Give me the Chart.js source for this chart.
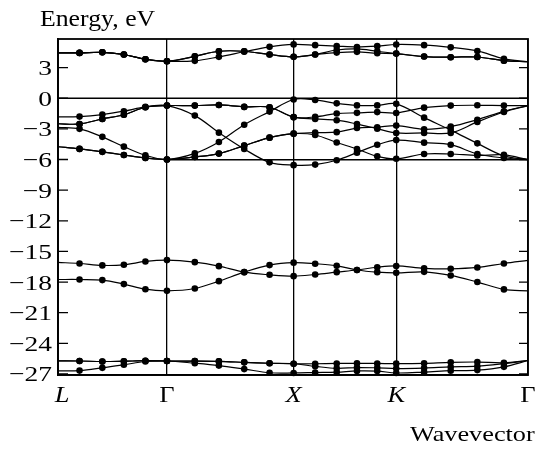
<!DOCTYPE html>
<html>
<head>
<meta charset="utf-8">
<script src="https://cdn.jsdelivr.net/npm/chart.js@4"></script>
<style>
  html, body { margin: 0; padding: 0; background: #fff; }
  #wrap { width: 536px; height: 453px; }
</style>
</head>
<body>
<div id="wrap"><canvas id="bands" width="536" height="453"></canvas></div>
<script>
// k-path positions of the computed points (L -> Γ -> X -> K -> Γ)
const kPos = [0, 0.17, 0.35, 0.52, 0.69, 0.86, 1.08, 1.27, 1.47, 1.67, 1.86,
              2.03, 2.20, 2.36, 2.52, 2.67, 2.89, 3.10, 3.31, 3.52, 3.71];
const kLabelPos = [0, 0.86, 1.86, 2.67, 3.71];
const kLabels = ['L', 'Γ', 'X', 'K', 'Γ'];
const kItalic = [true, false, true, true, false];
const energyTicks = [3, 0, -3, -6, -9, -12, -15, -18, -21, -24, -27];

// conduction bands
const cb1 = [4.44, 4.44, 4.50, 4.28, 3.82, 3.62, 3.66, 4.05, 4.55, 5.03, 5.27, 5.20, 5.10, 5.02, 5.10, 5.26, 5.20, 4.98, 4.63, 3.86, 3.57];
const cb2 = [4.44, 4.44, 4.50, 4.28, 3.82, 3.62, 4.10, 4.60, 4.60, 4.28, 4.05, 4.28, 4.72, 4.83, 4.60, 4.37, 4.08, 4.02, 4.04, 3.68, 3.57];
const cb3 = [4.44, 4.44, 4.50, 4.28, 3.82, 3.62, 4.10, 4.60, 4.60, 4.28, 4.05, 4.28, 4.47, 4.54, 4.41, 4.37, 4.08, 4.02, 4.04, 3.68, 3.57];
// valence bands
const vb1 = [-1.83, -1.80, -1.60, -1.27, -0.85, -0.72, -0.72, -0.66, -0.85, -0.88, -1.85, -1.83, -1.50, -1.43, -1.36, -1.44, -0.92, -0.72, -0.69, -0.72, -0.72];
const vb2 = [-2.50, -2.52, -2.03, -1.62, -0.88, -0.72, -0.72, -0.66, -0.85, -0.88, -1.85, -2.03, -2.15, -2.53, -2.98, -3.40, -3.40, -3.40, -2.32, -1.35, -0.72];
const vb3 = [-2.50, -2.52, -2.03, -1.62, -0.88, -0.72, -1.70, -3.37, -4.97, -6.28, -6.55, -6.50, -6.07, -5.33, -4.56, -4.10, -4.35, -4.55, -5.46, -5.85, -6.02];
const vb4 = [-2.85, -3.00, -3.78, -4.74, -5.58, -6.00, -5.40, -4.28, -2.60, -1.31, -0.12, -0.17, -0.50, -0.70, -0.70, -0.55, -1.90, -3.12, -4.42, -5.65, -6.02];
const vb5 = [-4.75, -4.96, -5.25, -5.56, -5.85, -6.00, -5.75, -5.42, -4.64, -3.86, -3.47, -3.37, -3.32, -2.92, -2.84, -2.68, -3.04, -2.78, -2.10, -1.28, -0.72];
const vb6 = [-4.75, -4.96, -5.25, -5.56, -5.85, -6.00, -5.75, -5.42, -4.64, -3.86, -3.47, -3.60, -4.33, -4.97, -5.69, -5.93, -5.46, -5.46, -5.60, -5.55, -6.02];
// semicore bands
const sb1 = [-16.08, -16.18, -16.37, -16.31, -15.98, -15.85, -16.05, -16.44, -17.03, -17.29, -17.42, -17.26, -17.03, -16.82, -16.55, -16.42, -16.65, -16.70, -16.57, -16.18, -15.88];
const sb2 = [-17.75, -17.75, -17.81, -18.20, -18.70, -18.86, -18.63, -17.91, -17.03, -16.34, -16.10, -16.20, -16.41, -16.82, -17.03, -17.10, -17.00, -17.35, -18.00, -18.72, -18.86];
// deep bands
const db1 = [-25.72, -25.73, -25.78, -25.75, -25.70, -25.73, -25.74, -25.77, -25.86, -25.95, -26.00, -26.00, -25.97, -25.96, -25.97, -25.99, -25.96, -25.86, -25.83, -25.90, -25.68];
const db2 = [-26.70, -26.67, -26.40, -26.10, -25.78, -25.73, -25.95, -26.18, -26.52, -26.88, -26.90, -26.86, -26.82, -26.70, -26.72, -26.90, -26.82, -26.68, -26.62, -26.30, -25.68];
const db3 = [-25.72, -25.73, -25.78, -25.75, -25.70, -25.73, -25.74, -25.77, -25.86, -25.95, -26.00, -26.25, -26.45, -26.37, -26.40, -26.47, -26.42, -26.31, -26.24, -25.98, -25.68];

// reference levels: top of valence band and Γ-point bottom
const fermiLevel = 0;
const gammaBottom = -6.03;

const bands = [cb1, cb2, cb3, vb1, vb2, vb3, vb4, vb5, vb6, sb1, sb2, db1, db2, db3];
const last = kPos.length - 1;

const datasets = bands.map(b => ({
  data: b.map((e, i) => ({ x: kPos[i], y: e })),
  borderColor: '#000',
  borderWidth: 1.2,
  tension: 0.35,
  pointRadius: ctx => (ctx.dataIndex === 0 || ctx.dataIndex === last) ? 0 : 3.3,
  pointBackgroundColor: '#000',
  pointBorderWidth: 0,
  clip: false,
}));
datasets.push({
  data: [{ x: kPos[0], y: fermiLevel }, { x: kPos[last], y: fermiLevel }],
  borderColor: '#000', borderWidth: 1.5, pointRadius: 0, tension: 0,
});
datasets.push({
  data: [{ x: kLabelPos[1], y: gammaBottom }, { x: kLabelPos[4], y: gammaBottom }],
  borderColor: '#000', borderWidth: 1.5, pointRadius: 0, tension: 0,
});

const SERIF = '"Liberation Serif", "Times New Roman", serif';

function stretchText(ctx, text, x, y, align, font, sx) {
  ctx.save();
  ctx.translate(x, y);
  ctx.scale(sx, 1);
  ctx.font = font;
  ctx.textAlign = align;
  ctx.textBaseline = 'alphabetic';
  ctx.fillStyle = '#000';
  ctx.fillText(text, 0, 0);
  ctx.restore();
}

const frame = {
  id: 'frame',
  afterDraw(chart) {
    const { ctx, chartArea: a, scales: { x, y } } = chart;
    ctx.save();
    ctx.strokeStyle = '#000';
    ctx.lineWidth = 1.8;
    ctx.strokeRect(a.left, a.top, a.right - a.left, a.bottom - a.top);
    ctx.lineWidth = 1.3;
    energyTicks.forEach(v => {
      const py = y.getPixelForValue(v);
      ctx.beginPath();
      ctx.moveTo(a.left, py); ctx.lineTo(a.left + 10, py);
      ctx.moveTo(a.right - 9, py); ctx.lineTo(a.right, py);
      ctx.stroke();
      const t = v < 0 ? '\u2212' + Math.abs(v) : String(v);
      stretchText(ctx, t, a.left - 6, py + 7.5, 'right', '22px ' + SERIF, 1.25);
    });
    kLabelPos.forEach((v, i) => {
      const px = x.getPixelForValue(v);
      const f = (kItalic[i] ? 'italic ' : '') + '23px ' + SERIF;
      stretchText(ctx, kLabels[i], px + (i === 0 ? 4 : 0), 402, 'center', f, 1.15);
    });
    stretchText(ctx, 'Energy, eV', 40, 26, 'left', '23px ' + SERIF, 1.12);
    stretchText(ctx, 'Wavevector', 410, 441, 'left', '21px ' + SERIF, 1.25);
    ctx.restore();
  }
};

new Chart(document.getElementById('bands'), {
  type: 'line',
  data: { datasets },
  options: {
    responsive: false,
    animation: false,
    devicePixelRatio: 1,
    layout: { padding: { left: 0, right: 8, top: 39, bottom: 0 } },
    plugins: { legend: { display: false }, tooltip: { enabled: false } },
    scales: {
      x: {
        type: 'linear',
        min: kPos[0],
        max: kPos[last],
        afterBuildTicks: s => { s.ticks = kLabelPos.map(v => ({ value: v })); },
        afterFit: s => { s.height = 78; },
        grid: { color: '#000', lineWidth: 1.3, drawTicks: false },
        border: { color: '#000', width: 1.8 },
        ticks: { display: false },
      },
      y: {
        min: -27.1,
        max: 5.8,
        afterBuildTicks: s => { s.ticks = energyTicks.map(v => ({ value: v })); },
        afterFit: s => { s.width = 58; },
        grid: { display: false, drawTicks: false },
        border: { color: '#000', width: 1.8 },
        ticks: { display: false },
      }
    }
  },
  plugins: [frame]
});
</script>
</body>
</html>
